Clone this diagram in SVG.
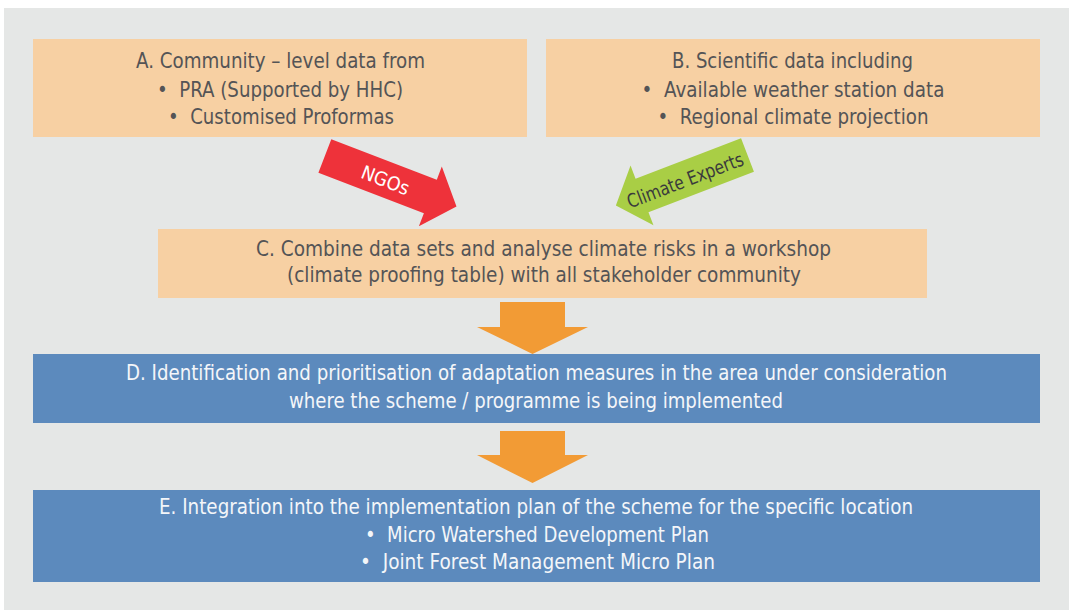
<svg xmlns="http://www.w3.org/2000/svg" width="1069" height="610" viewBox="0 0 1069 610">
  <style>
    .panel { fill: #e5e7e6; }
    .peach { fill: #f7d0a3; }
    .blue { fill: #5c8abd; }
    .t { font-family: "DejaVu Sans Condensed", "DejaVu Sans", sans-serif; font-stretch: condensed; font-size: 21px; text-anchor: middle; }
    .dark { fill: #545456; }
    .light { fill: #f4f6f9; }
    .flow { fill: #f29b35; }
    .lbl { font-family: "DejaVu Sans Condensed", "DejaVu Sans", sans-serif; font-stretch: condensed; font-size: 19px; text-anchor: middle; }
  </style>

  <!-- background panel -->
  <rect class="panel" x="4" y="8" width="1065" height="602"/>

  <g id="node-a">
    <rect class="peach" x="33" y="39" width="494" height="98"/>
    <text class="t dark" x="280.5" y="68" textLength="289" lengthAdjust="spacingAndGlyphs">A. Community – level data from</text>
    <text class="t dark" x="280" y="96.5" textLength="246" lengthAdjust="spacingAndGlyphs">•&#160; PRA (Supported by HHC)</text>
    <text class="t dark" x="281" y="124" textLength="226" lengthAdjust="spacingAndGlyphs">•&#160; Customised Proformas</text>
  </g>

  <g id="node-b">
    <rect class="peach" x="546" y="39" width="494" height="98"/>
    <text class="t dark" x="792.5" y="68" textLength="241" lengthAdjust="spacingAndGlyphs">B. Scientific data including</text>
    <text class="t dark" x="793" y="96.5" textLength="303" lengthAdjust="spacingAndGlyphs">•&#160; Available weather station data</text>
    <text class="t dark" x="793" y="124" textLength="271" lengthAdjust="spacingAndGlyphs">•&#160; Regional climate projection</text>
  </g>

  <g id="node-c">
    <rect class="peach" x="158" y="229" width="769" height="69"/>
    <text class="t dark" x="543.5" y="255.5" textLength="575" lengthAdjust="spacingAndGlyphs">C. Combine data sets and analyse climate risks in a workshop</text>
    <text class="t dark" x="544" y="282" textLength="514" lengthAdjust="spacingAndGlyphs">(climate proofing table) with all stakeholder community</text>
  </g>

  <g id="node-d">
    <rect class="blue" x="33" y="354" width="1007" height="69"/>
    <text class="t light" x="536.5" y="380" textLength="821" lengthAdjust="spacingAndGlyphs">D. Identification and prioritisation of adaptation measures in the area under consideration</text>
    <text class="t light" x="536" y="408" textLength="494" lengthAdjust="spacingAndGlyphs">where the scheme / programme is being implemented</text>
  </g>

  <g id="node-e">
    <rect class="blue" x="33" y="490" width="1007" height="92"/>
    <text class="t light" x="536" y="514" textLength="754" lengthAdjust="spacingAndGlyphs">E. Integration into the implementation plan of the scheme for the specific location</text>
    <text class="t light" x="537" y="542" textLength="344" lengthAdjust="spacingAndGlyphs">•&#160; Micro Watershed Development Plan</text>
    <text class="t light" x="537.5" y="569" textLength="355" lengthAdjust="spacingAndGlyphs">•&#160; Joint Forest Management Micro Plan</text>
  </g>

  <g id="connectors">
    <!-- NGOs: A to C -->
    <polygon fill="#ee323a" transform="translate(324.85,156) rotate(21)"
             points="0,-18 113,-18 113,-32 141,0 113,32 113,18 0,18"/>
    <text class="lbl" fill="#ffffff" transform="translate(385.5,180) rotate(21)" x="0" y="7" textLength="50" lengthAdjust="spacingAndGlyphs">NGOs</text>

    <!-- Climate Experts: B to C -->
    <polygon fill="#a9ce45" transform="translate(747.5,155) scale(-1,1) rotate(21)"
             points="0,-18 113,-18 113,-32 141,0 113,32 113,18 0,18"/>
    <text class="lbl" fill="#3a3a3c" transform="translate(685,180) rotate(-21)" x="0" y="7" textLength="123" lengthAdjust="spacingAndGlyphs">Climate Experts</text>

    <!-- C to D -->
    <polygon class="flow" points="500,302 565,302 565,327 588,327 532.5,354 477,327 500,327"/>
    <!-- D to E -->
    <polygon class="flow" points="500,431 565,431 565,455 588,455 532.5,483 477,455 500,455"/>
  </g>
</svg>
